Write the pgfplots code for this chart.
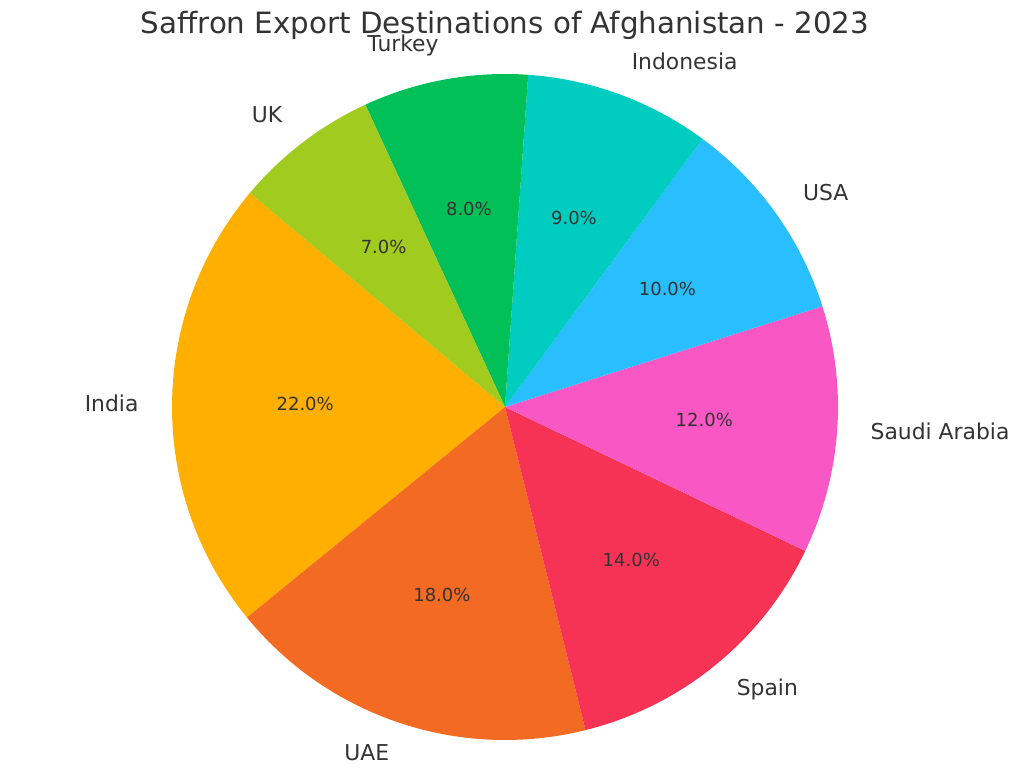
\documentclass[border=0pt]{standalone}
\usepackage{pgfplots}
\pgfplotsset{compat=1.18}
\usepackage{pgfplotstable}
\usepackage{fontspec}
\setmainfont{DejaVu Sans}
\usetikzlibrary{calc}

\definecolor{cIndia}{RGB}{255,175,0}
\definecolor{cUAE}{RGB}{243,106,34}
\definecolor{cSpain}{RGB}{246,51,85}
\definecolor{cSaudi}{RGB}{249,87,195}
\definecolor{cUSA}{RGB}{41,190,253}
\definecolor{cIndonesia}{RGB}{0,204,192}
\definecolor{cTurkey}{RGB}{1,192,87}
\definecolor{cUK}{RGB}{161,203,30}
\definecolor{txt}{RGB}{51,51,51}

% share of exports, percent, counter-clockwise from 140 deg
\pgfplotstableread[col sep=comma]{
name,value,col
India,22,cIndia
UAE,18,cUAE
Spain,14,cSpain
Saudi Arabia,12,cSaudi
USA,10,cUSA
Indonesia,9,cIndonesia
Turkey,8,cTurkey
UK,7,cUK
}\datatable

\newcommand\R{249.75pt}      % 333 px
\newcommand\pctfont{\fontsize{13.5}{16}\selectfont}
\newcommand\labfont{\fontsize{16.4}{19}\selectfont}

\begin{document}
\begin{tikzpicture}
\begin{axis}[
  scale only axis, width=768pt, height=585.75pt,
  xmin=0, xmax=1024, ymin=0, ymax=781,
  hide axis, clip=false,
]
\path (axis cs:0,0) rectangle (axis cs:1024,781);
\global\def\cum{140}
\pgfplotsforeachungrouped \i in {0,...,7}{
  \pgfplotstablegetelem{\i}{value}\of\datatable \let\val=\pgfplotsretval
  \pgfplotstablegetelem{\i}{name}\of\datatable \let\nam=\pgfplotsretval
  \pgfplotstablegetelem{\i}{col}\of\datatable \let\slicecol=\pgfplotsretval
  \pgfmathsetmacro\aa{\cum}
  \pgfmathsetmacro\bb{\cum+3.6*\val}
  \pgfmathsetmacro\mm{(\aa+\bb)/2}
  \pgfmathsetmacro\cx{cos(\mm)}
  \pgfmathparse{\cx<0 ? "east" : "west"}\let\anc=\pgfmathresult
  \edef\temp{%
    \noexpand\fill[\slicecol] (axis cs:505,374) -- ++(\aa:\R)
      arc[start angle=\aa, end angle=\bb, radius=\R] -- cycle;
    \noexpand\node[font=\noexpand\pctfont, text=txt, yshift=1.1pt] at ($(axis cs:505,374)+(\mm:0.6*\R)$) {\val.0\noexpand\%};
    \noexpand\node[font=\noexpand\labfont, text=txt, anchor=\anc, inner sep=0pt, yshift=1.1pt] at ($(axis cs:505,374)+(\mm:1.1*\R)$) {\nam};
  }
  \temp
  \global\let\cum\bb
}
\node[font=\fontsize{22}{26}\selectfont, text=txt] at (axis cs:505,756) {Saffron Export Destinations of Afghanistan - 2023};
\end{axis}
\end{tikzpicture}
\end{document}
